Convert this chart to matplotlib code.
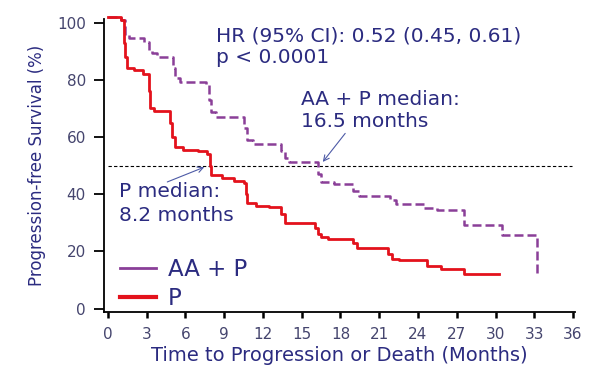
import matplotlib
matplotlib.use('Agg')
import matplotlib.pyplot as plt
from matplotlib.lines import Line2D

plt.rcParams['font.family'] = ['DejaVu Sans']

# Kaplan-Meier style step data (months, % progression-free)
aap_t = [0, 1.05, 1.3, 1.6, 2.8, 3.2, 3.4, 3.8, 5.05, 5.2, 5.6, 7.6, 7.8, 8.0, 8.4,
         10.5, 10.8, 11.2, 13.4, 13.7, 14.0, 16.3, 16.5, 17.5, 19.0, 19.4, 21.8,
         22.3, 24.5, 25.5, 27.6, 30.5, 33.2]
aap_s = [101.8, 101, 95.6, 94.5, 93.3, 90.5, 89.2, 88, 84, 80.5, 79.3, 78.4, 73,
         68.8, 67, 63, 58.9, 57.7, 55, 52.5, 51.3, 47, 44.3, 43.7, 41, 39.3, 38,
         36.4, 35, 34.4, 29.2, 25.7, 11.7]

p_t = [0, 1.05, 1.25, 1.35, 1.5, 2.0, 2.7, 3.15, 3.3, 3.6, 4.8, 5.0, 5.2, 5.8, 7.0,
       7.7, 7.9, 8.0, 8.8, 9.8, 10.5, 10.7, 10.8, 11.5, 12.5, 13.4, 13.7, 16.0,
       16.3, 16.5, 17.0, 19.0, 19.25, 21.7, 22.0, 22.5, 24.7, 25.8, 27.6, 30.3]
p_s = [101.8, 101, 93, 88, 84, 83.5, 82, 76, 70, 69, 65, 60, 56.5, 55.5, 55,
       54.2, 50, 46.6, 45.5, 44.5, 43.8, 40, 37, 36, 35.5, 33, 30, 28, 26, 25,
       24.2, 23, 21, 19, 17.5, 17, 15, 13.8, 12.1, 12.1]

x_ticks = [0, 3, 6, 9, 12, 15, 18, 21, 24, 27, 30, 33, 36]
y_ticks = [0, 20, 40, 60, 80, 100]

navy = '#2b2b80'
tick_col = '#45456e'
red = '#e3121c'
purple = '#8a3f98'
arrow_col = '#4d5aa6'

fig = plt.figure(figsize=(6, 3.77), dpi=100)
ax = fig.add_axes([0.1733, 0.1724, 0.785, 0.777])

ax.step(aap_t, aap_s, where='post', color=purple, lw=1.8,
        linestyle=(0, (3.6, 1.6)), clip_on=False, zorder=3)
ax.step(p_t, p_s, where='post', color=red, lw=2.0, clip_on=False, zorder=4)

# median reference line
ax.plot([0, 35.9], [50, 50], color='black', lw=0.8, linestyle=(0, (3, 2)), zorder=2)

ax.set_xlim(-0.3, 36.15)
ax.set_ylim(-1.2, 101.2)
ax.set_xticks(x_ticks)
ax.set_yticks(y_ticks)
for s in ['top', 'right']:
    ax.spines[s].set_visible(False)
for s in ['left', 'bottom']:
    ax.spines[s].set_linewidth(1.3)
ax.tick_params(axis='y', length=7, width=1.3, labelsize=11, labelcolor=tick_col, pad=6)
ax.tick_params(axis='x', length=4.5, width=1.8, labelsize=11, labelcolor=tick_col, pad=6)

ax.set_xlabel('Time to Progression or Death (Months)', fontsize=14, color=navy, labelpad=3)
ax.set_ylabel('Progression-free Survival (%)', fontsize=12, color=navy, labelpad=8)

ax.text(8.36, 93.2, 'HR (95% CI): 0.52 (0.45, 0.61)', fontsize=14.5, color=navy, va='baseline')
ax.text(8.36, 85.7, 'p < 0.0001', fontsize=14.5, color=navy, va='baseline')
ax.text(14.97, 71.1, 'AA + P median:', fontsize=14.5, color=navy, va='baseline')
ax.text(14.97, 63.4, '16.5 months', fontsize=14.5, color=navy, va='baseline')
ax.text(0.87, 39.1, 'P median:', fontsize=14.5, color=navy, va='baseline')
ax.text(0.87, 30.7, '8.2 months', fontsize=14.5, color=navy, va='baseline')

ax.annotate('', xy=(16.5, 50.5), xytext=(18.5, 62.0),
            arrowprops=dict(arrowstyle='->', color=arrow_col, lw=0.8))
ax.annotate('', xy=(7.66, 49.8), xytext=(4.4, 43.9),
            arrowprops=dict(arrowstyle='->', color=arrow_col, lw=0.8))

handles = [Line2D([], [], color=purple, lw=2.0), Line2D([], [], color=red, lw=3.0)]
ax.legend(handles, ['AA + P', 'P'], loc='lower left', bbox_to_anchor=(0.005, -0.04),
          frameon=False, fontsize=16.5, labelcolor=navy, handlelength=1.55,
          handletextpad=0.55, labelspacing=0.28, borderaxespad=0.2)

fig.savefig('out.png', dpi=100)
